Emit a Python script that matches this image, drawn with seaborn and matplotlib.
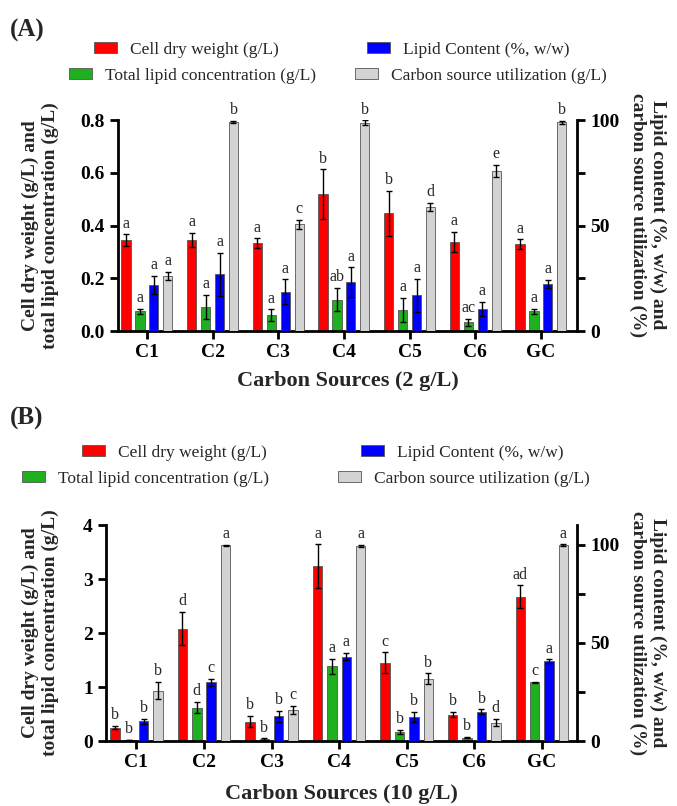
import matplotlib.pyplot as plt
import pandas as pd
import seaborn as sns
from matplotlib.patches import Patch

sources = ["C1", "C2", "C3", "C4", "C5", "C6", "GC"]
series = ["Cell dry weight (g/L)", "Total lipid concentration (g/L)",
          "Lipid Content (%, w/w)", "Carbon source utilization (g/L)"]
colors = ["#ff0000", "#1fb01f", "#0000ff", "#d3d3d3"]

# (A) carbon sources at 2 g/L
cdw_2 = [0.345, 0.345, 0.333, 0.518, 0.446, 0.337, 0.329]
cdw_2_err = [0.021, 0.028, 0.018, 0.095, 0.085, 0.039, 0.018]
cdw_2_sig = ["a", "a", "a", "b", "b", "a", "a"]
lipid_2 = [0.074, 0.092, 0.060, 0.119, 0.081, 0.033, 0.074]
lipid_2_err = [0.009, 0.045, 0.022, 0.043, 0.046, 0.014, 0.010]
lipid_2_sig = ["a", "a", "a", "ab", "a", "ac", "a"]
content_2 = [21.8, 26.8, 18.6, 23.2, 17.0, 10.4, 22.4]
content_2_err = [4.3, 10.3, 5.9, 7.0, 7.8, 3.3, 2.0]
content_2_sig = ["a", "a", "a", "a", "a", "a", "a"]
util_2 = [26.2, 99.1, 50.6, 98.8, 58.9, 75.9, 98.9]
util_2_err = [1.9, 0.6, 2.2, 1.0, 2.0, 3.0, 0.8]
util_2_sig = ["a", "b", "c", "b", "d", "e", "b"]

# (B) carbon sources at 10 g/L
cdw_10 = [0.25, 2.08, 0.36, 3.24, 1.45, 0.49, 2.67]
cdw_10_err = [0.035, 0.31, 0.10, 0.40, 0.19, 0.045, 0.21]
cdw_10_sig = ["b", "d", "b", "a", "c", "b", "ad"]
lipid_10 = [0.015, 0.62, 0.035, 1.38, 0.165, 0.06, 1.09]
lipid_10_err = [0.005, 0.11, 0.015, 0.14, 0.035, 0.012, 0.01]
lipid_10_sig = ["b", "d", "b", "a", "b", "b", "c"]
content_10 = [10.0, 30.0, 12.6, 43.0, 12.2, 14.9, 40.6]
content_10_err = [1.4, 1.8, 2.7, 1.9, 2.6, 1.2, 1.0]
content_10_sig = ["b", "c", "b", "a", "b", "b", "a"]
util_10 = [25.6, 99.6, 16.0, 99.3, 31.7, 9.4, 99.8]
util_10_err = [4.4, 0.4, 2.0, 0.4, 2.7, 1.7, 0.3]
util_10_sig = ["b", "a", "c", "a", "b", "d", "a"]

sns.set_style("ticks", {"axes.edgecolor": "black", "xtick.color": "black", "ytick.color": "black"})
plt.rcParams["font.family"] = ["Liberation Serif", "DejaVu Serif"]

W, H = 677, 806
fig = plt.figure(figsize=(W / 100, H / 100), dpi=100)


def panel(ax, groups, left_lim, left_ticks, right_lim, xlim, xlabel, xlabel_y,
          ylab_x, yrlab_x, yrlab_y):
    ax2 = ax.twinx()
    for axis, idx in ((ax, [0, 1]), (ax2, [2, 3])):
        df = pd.DataFrame({
            "source": sources * len(idx),
            "series": [series[i] for i in idx for _ in sources],
            "value": [v for i in idx for v in groups[i][0]],
        })
        sns.barplot(data=df, x="source", y="value", hue="series", order=sources,
                    hue_order=series, palette=dict(zip(series, colors)), saturation=1,
                    width=0.85, gap=0.34, errorbar=None, edgecolor="#555555",
                    linewidth=0.6, legend=False, ax=axis)
        bars = [c for c in axis.containers if len(c) > 0]
        for container, i in zip(bars, idx):
            vals, errs, sig = groups[i]
            xs = [p.get_x() + p.get_width() / 2 for p in container]
            axis.errorbar(xs, vals, yerr=errs, fmt="none", ecolor="black",
                          elinewidth=1, capsize=2.5, capthick=1)
            for x, v, e, s in zip(xs, vals, errs, sig):
                axis.annotate(s, (x, v + e), xytext=(0, 2), textcoords="offset points",
                              ha="center", va="bottom", fontsize=11.5)

    ax.set_xlim(xlim)
    ax.set_ylim(left_lim)
    ax.set_yticks(left_ticks, [f"{t:g}" if left_lim[1] > 1 else f"{t:.1f}" for t in left_ticks],
                  fontsize=14, fontweight="bold")
    ax.set_xticks(range(len(sources)), sources, fontsize=14, fontweight="bold")
    ax2.set_ylim(right_lim)
    ax2.set_yticks([0, 25, 50, 75, 100], ["0", "", "50", "", "100"], fontsize=14, fontweight="bold")

    for a in (ax, ax2):
        a.tick_params(axis="both", direction="out", length=6, width=2)
        for s in a.spines.values():
            s.set_linewidth(2)
    ax.spines[["top", "right"]].set_visible(False)
    ax2.spines[["top", "left", "bottom"]].set_visible(False)

    ax.set_xlabel(xlabel, fontsize=16, fontweight="bold")
    ax.xaxis.set_label_coords(0.5, xlabel_y)
    ax.set_ylabel("Cell dry weight (g/L) and\ntotal lipid concentration (g/L)",
                  fontsize=14, fontweight="bold")
    ax.yaxis.label.set(ha="center", va="center", rotation_mode="default")
    ax.yaxis.set_label_coords(ylab_x, 0.5)
    ax2.set_ylabel("Lipid content (%, w/w) and\ncarbon source utilization (%)",
                   fontsize=14, fontweight="bold", rotation=270)
    ax2.yaxis.label.set(ha="center", va="center", rotation_mode="default")
    ax2.yaxis.set_label_coords(yrlab_x, yrlab_y)


def legend_entry(label, color, x, y):
    leg = fig.legend(handles=[Patch(facecolor=color, edgecolor="#555555", linewidth=0.6)],
                     labels=[label], loc="center left", bbox_to_anchor=(x / W, 1 - y / H),
                     frameon=False, fontsize=12.5, borderpad=0, borderaxespad=0,
                     handlelength=1.3, handleheight=0.6, handletextpad=0.8)
    return leg


# panel A
axA = fig.add_axes([118 / W, 1 - 331 / H, (577 - 118) / W, (331 - 120) / H])
panel(axA,
      [(cdw_2, cdw_2_err, cdw_2_sig), (lipid_2, lipid_2_err, lipid_2_sig),
       (content_2, content_2_err, content_2_sig), (util_2, util_2_err, util_2_sig)],
      (0, 0.8), [0, 0.2, 0.4, 0.6, 0.8], (0, 100), (-0.44, 6.55),
      "Carbon Sources (2 g/L)", -0.19, (40 - 118) / 459, (648 - 118) / 459, 0.55)
fig.text(10 / W, 1 - 30 / H, "(A)", fontsize=18, fontweight="bold", va="center", ha="left")
for lab, col, x, y in zip(series, colors, [94, 69, 367, 355], [50, 76, 50, 76]):
    legend_entry(lab, col, x, y)

# panel B
axB = fig.add_axes([106 / W, 1 - 741 / H, (577 - 106) / W, (741 - 525) / H])
panel(axB,
      [(cdw_10, cdw_10_err, cdw_10_sig), (lipid_10, lipid_10_err, lipid_10_sig),
       (content_10, content_10_err, content_10_sig), (util_10, util_10_err, util_10_sig)],
      (0, 4), [0, 1, 2, 3, 4], (0, 110), (-0.45, 6.52),
      "Carbon Sources (10 g/L)", -0.2, (40 - 106) / 471, (648 - 106) / 471, 0.5)
fig.text(10 / W, 1 - 418 / H, "(B)", fontsize=18, fontweight="bold", va="center", ha="left")
for lab, col, x, y in zip(series, colors, [82, 22, 361, 338], [453, 479, 453, 479]):
    legend_entry(lab, col, x, y)

fig.savefig("out.png", dpi=100)
